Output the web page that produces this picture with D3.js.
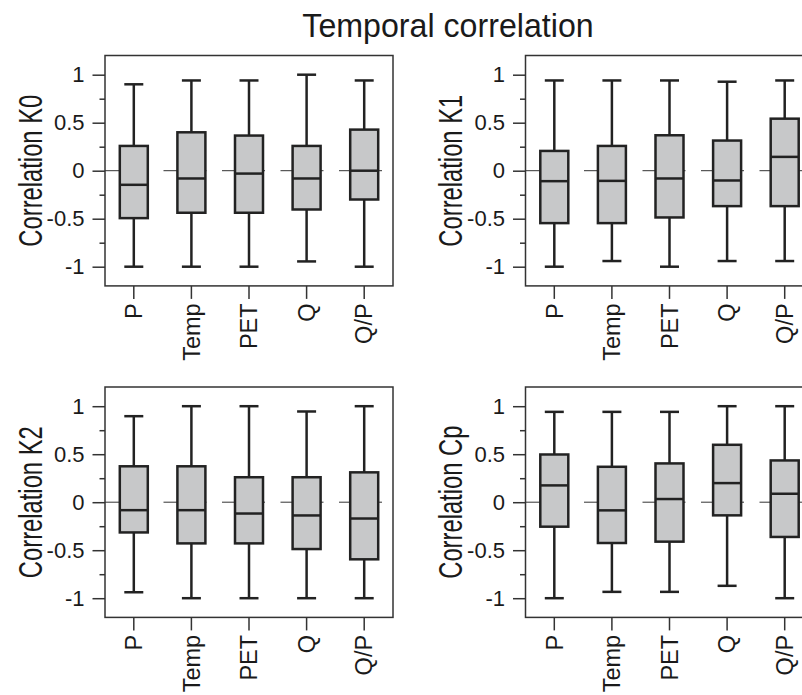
<!DOCTYPE html>
<html>
<head>
<meta charset="utf-8">
<script src="https://cdn.jsdelivr.net/npm/d3@7"></script>
<style>
  html, body { margin: 0; padding: 0; background: #fff; }
  svg { display: block; }
  text { font-family: "Liberation Sans", Arial, sans-serif; fill: #1a1a1a; }
</style>
</head>
<body>
<svg id="chart" width="802" height="695"></svg>
<script>
// ---- Data ----
const title = "Temporal correlation";
const categories = ["P", "Temp", "PET", "Q", "Q/P"];
const yMajorTicks = [-1, -0.5, 0, 0.5, 1];
const yMinorTicks = [-0.75, -0.25, 0.25, 0.75];
const panelLabels = ["Correlation K0", "Correlation K1", "Correlation K2", "Correlation Cp"];
// each row: [lower whisker, Q1, median, Q3, upper whisker]
const statsK0 = [
  [-1.00, -0.494, -0.147, 0.258, 0.90],
  [-1.00, -0.438, -0.081, 0.400, 0.94],
  [-1.00, -0.438, -0.030, 0.366, 0.94],
  [-0.945, -0.404, -0.081, 0.258, 1.00],
  [-1.00, -0.300, 0.000, 0.428, 0.94]
];
const statsK1 = [
  [-1.00, -0.546, -0.109, 0.206, 0.94],
  [-0.941, -0.546, -0.106, 0.258, 0.94],
  [-1.00, -0.487, -0.081, 0.369, 0.94],
  [-0.941, -0.369, -0.102, 0.314, 0.927],
  [-0.941, -0.369, 0.144, 0.542, 0.94]
];
const statsK2 = [
  [-0.938, -0.315, -0.083, 0.374, 0.896],
  [-1.00, -0.429, -0.083, 0.374, 1.00],
  [-1.00, -0.429, -0.118, 0.260, 1.00],
  [-1.00, -0.488, -0.138, 0.260, 0.945],
  [-1.00, -0.595, -0.170, 0.311, 1.00]
];
const statsCp = [
  [-1.00, -0.255, 0.175, 0.497, 0.941],
  [-0.934, -0.425, -0.085, 0.369, 0.941],
  [-0.934, -0.411, 0.033, 0.404, 0.941],
  [-0.871, -0.137, 0.199, 0.598, 1.00],
  [-1.00, -0.362, 0.088, 0.435, 1.00]
];
const panelStats = [statsK0, statsK1, statsK2, statsCp];

// ---- Layout ----
const svg = d3.select("#chart");
const panelW = 288, panelH = 230.4;
const origins = [[105, 55.5], [525.5, 55.5], [105, 387], [525.5, 387]];
const boxHalf = 14, capHalf = 9.5;
const dark = "#222";

svg.append("text")
  .attr("transform", "translate(448,36.5) scale(0.96,1)")
  .attr("text-anchor", "middle")
  .style("font-size", "33.5px")
  .text(title);

panelStats.forEach((stats, pi) => {
  const [x0, y0] = origins[pi];
  const g = svg.append("g");
  const x = d3.scaleBand().domain(categories).range([x0, x0 + panelW]);
  const y = d3.scaleLinear().domain([-1.2, 1.2]).range([y0 + panelH, y0]);
  const cx = c => x(c) + x.bandwidth() / 2;

  // zero reference line (dashed)
  g.append("line")
    .attr("x1", x0).attr("x2", x0 + panelW)
    .attr("y1", y(0)).attr("y2", y(0))
    .attr("stroke", "#333").attr("stroke-width", 1)
    .attr("stroke-dasharray", "43,15.5");

  // boxes
  const bx = g.selectAll("g.box").data(stats).join("g").attr("class", "box");
  bx.append("line")
    .attr("x1", (d, i) => cx(categories[i])).attr("x2", (d, i) => cx(categories[i]))
    .attr("y1", d => y(d[3])).attr("y2", d => y(d[4]))
    .attr("stroke", dark).attr("stroke-width", 2.5);
  bx.append("line")
    .attr("x1", (d, i) => cx(categories[i])).attr("x2", (d, i) => cx(categories[i]))
    .attr("y1", d => y(d[1])).attr("y2", d => y(d[0]))
    .attr("stroke", dark).attr("stroke-width", 2.5);
  [0, 4].forEach(k => {
    bx.append("line")
      .attr("x1", (d, i) => cx(categories[i]) - capHalf).attr("x2", (d, i) => cx(categories[i]) + capHalf)
      .attr("y1", d => y(d[k])).attr("y2", d => y(d[k]))
      .attr("stroke", dark).attr("stroke-width", 2.5);
  });
  bx.append("rect")
    .attr("x", (d, i) => cx(categories[i]) - boxHalf)
    .attr("width", boxHalf * 2)
    .attr("y", d => y(d[3]))
    .attr("height", d => y(d[1]) - y(d[3]))
    .attr("fill", "#c7c8c9").attr("stroke", dark).attr("stroke-width", 2.5);
  bx.append("line")
    .attr("x1", (d, i) => cx(categories[i]) - boxHalf).attr("x2", (d, i) => cx(categories[i]) + boxHalf)
    .attr("y1", d => y(d[2])).attr("y2", d => y(d[2]))
    .attr("stroke", dark).attr("stroke-width", 2.5);

  // frame
  g.append("rect")
    .attr("x", x0).attr("y", y0).attr("width", panelW).attr("height", panelH)
    .attr("fill", "none").attr("stroke", "#333").attr("stroke-width", 1.5);

  // y axis major
  const ya = g.append("g").attr("transform", `translate(${x0},0)`)
    .call(d3.axisLeft(y).tickValues(yMajorTicks).tickSize(12.5).tickPadding(8)
      .tickFormat(d => String(d)));
  ya.select(".domain").remove();
  ya.selectAll("line").attr("stroke", "#333").attr("stroke-width", 1.5);
  ya.selectAll("text").style("font-size", "22px").attr("fill", "#1a1a1a").attr("font-family", null);

  const ym = g.append("g").attr("transform", `translate(${x0},0)`)
    .call(d3.axisLeft(y).tickValues(yMinorTicks).tickSize(5.5).tickFormat(""));
  ym.select(".domain").remove();
  ym.selectAll("line").attr("stroke", "#333").attr("stroke-width", 1.5);

  // x axis
  const xa = g.append("g").attr("transform", `translate(0,${y0 + panelH})`)
    .call(d3.axisBottom(x).tickSize(13));
  xa.select(".domain").remove();
  xa.selectAll("line").attr("stroke", "#333").attr("stroke-width", 1.5);
  xa.selectAll("text")
    .attr("font-family", null)
    .style("font-size", "23.5px").attr("fill", "#1a1a1a")
    .attr("text-anchor", "end")
    .attr("transform", "rotate(-90)")
    .attr("x", -17.5).attr("y", 0).attr("dy", "0.35em");

  // y label (tall, condensed lettering as in the reference)
  g.append("text")
    .attr("transform", `translate(${x0 - 63.5},${y0 + panelH / 2}) rotate(-90) scale(0.72,1)`)
    .attr("text-anchor", "middle")
    .style("font-size", "33px")
    .text(panelLabels[pi]);
});
</script>
</body>
</html>
